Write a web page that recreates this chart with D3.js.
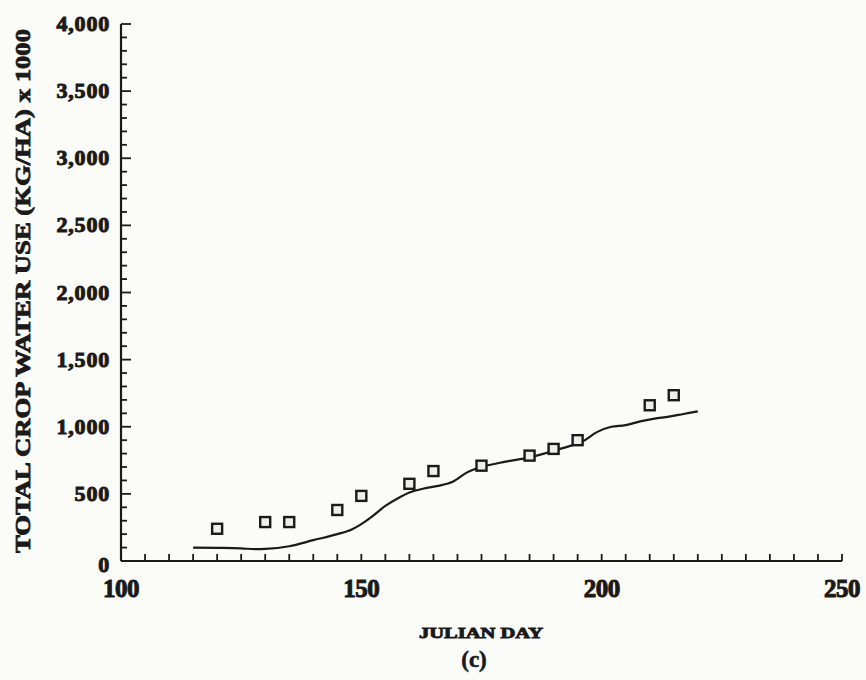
<!DOCTYPE html>
<html>
<head>
<meta charset="utf-8">
<script src="https://cdn.jsdelivr.net/npm/d3@7"></script>
<style>
  body { margin: 0; background: #fbfbf7; }
  text { font-family: "Times New Roman", "Liberation Serif", Times, serif; font-weight: bold; fill: #1a1a1a; stroke: #1a1a1a; }
</style>
</head>
<body>
<svg id="chart" width="866" height="680"></svg>
<script>
// measured (squares) - julian day / water use (kg/ha x 1000)
const obsDays = [120, 130, 135, 145, 150, 160, 165, 175, 185, 190, 195, 210, 215];
const obsUse = [240, 290, 290, 380, 485, 575, 670, 710, 785, 835, 900, 1160, 1235];

// simulated line
const simDays = [115, 120, 125, 128, 130, 135, 140, 145, 148, 150, 152, 155, 158, 160, 163, 166, 169, 172, 175, 180, 185, 188, 190, 193, 196, 199, 202, 205, 208, 211, 214, 217, 220];
const simUse = [100, 98, 94, 88, 90, 110, 155, 200, 235, 275, 325, 410, 475, 510, 540, 560, 590, 660, 700, 740, 772, 800, 822, 852, 890, 960, 1000, 1012, 1040, 1060, 1075, 1095, 1115];

const yTicks = [0, 500, 1000, 1500, 2000, 2500, 3000, 3500, 4000];
const xTicks = [100, 150, 200, 250];

const svg = d3.select("#chart");
const ink = "#1a1a1a";

const x = d3.scaleLinear().domain([100, 250]).range([121, 842]);
const y = d3.scaleLinear().domain([0, 4000]).range([561, 24]);

// --- axes drawn by hand for the inward ticks ---
const ax = svg.append("g");

// y axis
ax.append("line")
  .attr("x1", x(100)).attr("x2", x(100))
  .attr("y1", y(0)).attr("y2", y(4000))
  .attr("stroke", ink).attr("stroke-width", 2.2);

ax.selectAll(".ymin")
  .data(d3.range(0, 4001, 100))
  .enter().append("line")
  .attr("x1", x(100))
  .attr("x2", d => x(100) + (d % 500 === 0 ? 10 : 6))
  .attr("y1", d => y(d)).attr("y2", d => y(d))
  .attr("stroke", ink).attr("stroke-width", 1.8);

ax.selectAll(".ylab")
  .data(yTicks)
  .enter().append("text")
  .attr("x", 110)
  .attr("y", d => y(d) + (d === 0 ? 11 : 7))
  .attr("text-anchor", "end")
  .attr("font-size", "22px")
  .attr("stroke-width", 1)
  .attr("letter-spacing", "0.8px")
  .text(d => d3.format(",")(d));

// x axis
ax.append("line")
  .attr("x1", x(100)).attr("x2", x(250))
  .attr("y1", y(0)).attr("y2", y(0))
  .attr("stroke", ink).attr("stroke-width", 2.2);

ax.selectAll(".xmin")
  .data(d3.range(105, 251, 5))
  .enter().append("line")
  .attr("x1", d => x(d)).attr("x2", d => x(d))
  .attr("y1", y(0)).attr("y2", y(0) - 7)
  .attr("stroke", ink).attr("stroke-width", 1.8);

ax.selectAll(".xlab")
  .data(xTicks)
  .enter().append("text")
  .attr("x", d => x(d))
  .attr("y", 597)
  .attr("text-anchor", "middle")
  .attr("font-size", "25px")
  .attr("stroke-width", 1)
  .attr("letter-spacing", "-0.5px")
  .text(d => d);

// titles
svg.append("text")
  .attr("transform", "translate(30,291) rotate(-90)")
  .attr("text-anchor", "middle")
  .attr("font-size", "21px")
  .attr("stroke-width", 0.8)
  .attr("textLength", 524)
  .attr("lengthAdjust", "spacingAndGlyphs")
  .text("TOTAL CROP WATER USE (KG/HA) x 1000");

svg.append("text")
  .attr("x", 481).attr("y", 638)
  .attr("text-anchor", "middle")
  .attr("font-size", "14px")
  .attr("stroke-width", 0.8)
  .attr("textLength", 124)
  .attr("lengthAdjust", "spacingAndGlyphs")
  .text("JULIAN DAY");

svg.append("text")
  .attr("x", 474).attr("y", 667)
  .attr("text-anchor", "middle")
  .attr("font-size", "23px")
  .attr("stroke-width", 0.6)
  .text("(c)");

// simulated line
const line = d3.line()
  .x((d, i) => x(simDays[i]))
  .y(d => y(d))
  .curve(d3.curveMonotoneX);

svg.append("path")
  .datum(simUse)
  .attr("d", line)
  .attr("fill", "none")
  .attr("stroke", ink)
  .attr("stroke-width", 2.2);

// observed squares
svg.selectAll(".obs")
  .data(obsDays)
  .enter().append("rect")
  .attr("x", d => x(d) - 5)
  .attr("y", (d, i) => y(obsUse[i]) - 5)
  .attr("width", 10).attr("height", 10)
  .attr("fill", "#eeeeea")
  .attr("stroke", ink)
  .attr("stroke-width", 2.4);
</script>
</body>
</html>
